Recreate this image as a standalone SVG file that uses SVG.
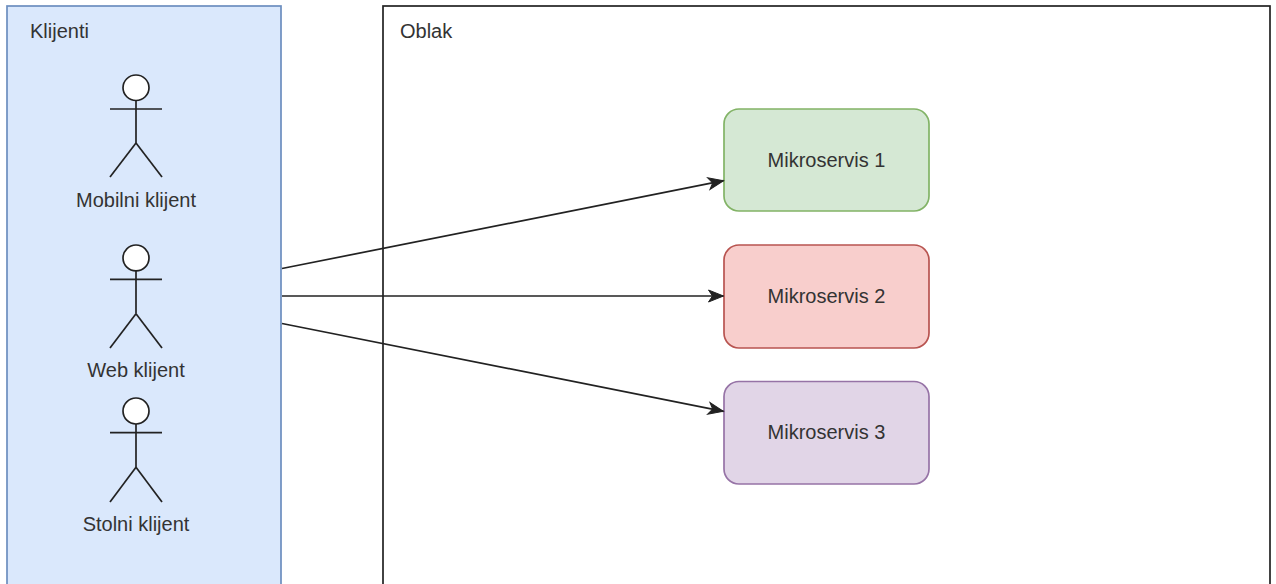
<svg xmlns="http://www.w3.org/2000/svg" width="1276" height="584" viewBox="0 0 1276 584">
<style>
text{font-family:"Liberation Sans",Arial,sans-serif;font-size:20px;fill:#333333}
.c{text-anchor:middle}
.actor line{stroke:#222;stroke-width:1.7}
.actor ellipse{fill:#fff;stroke:#222;stroke-width:1.7}
.conn{stroke:#222;stroke-width:1.7;fill:none;marker-end:url(#arr)}
.box{stroke-width:1.7}
</style>
<defs>
<marker id="arr" markerUnits="userSpaceOnUse" markerWidth="20" markerHeight="16" viewBox="-16 -8 18 16" refX="0" refY="0" orient="auto">
<path d="M0,0 L-15,-6 L-11,0 L-15,6 Z" fill="#222" stroke="#222" stroke-width="1"/>
</marker>
</defs>
<rect width="1276" height="584" fill="#fff"/>
<g id="klijenti">
<rect x="7" y="6" width="274" height="600" fill="#dae8fc" stroke="#6c8ebf" stroke-width="1.7"/>
<text x="30" y="38">Klijenti</text>
</g>
<g id="oblak">
<rect x="383" y="6" width="887" height="600" fill="#fff" stroke="#222" stroke-width="1.7"/>
<text x="400" y="38">Oblak</text>
</g>
<g id="mobilni" class="actor">
<ellipse cx="136" cy="87.75" rx="13" ry="12.75"/>
<line x1="136" y1="100.5" x2="136" y2="143"/>
<line x1="110" y1="109" x2="162" y2="109"/>
<line x1="136" y1="143" x2="110" y2="177"/>
<line x1="136" y1="143" x2="162" y2="177"/>
<text class="c" x="136" y="207">Mobilni klijent</text>
</g>
<g id="web" class="actor">
<ellipse cx="136" cy="257.9" rx="13" ry="12.9"/>
<line x1="136" y1="270.8" x2="136" y2="313.7"/>
<line x1="110" y1="279.3" x2="162" y2="279.3"/>
<line x1="136" y1="313.7" x2="110" y2="348"/>
<line x1="136" y1="313.7" x2="162" y2="348"/>
<text class="c" x="136" y="377">Web klijent</text>
</g>
<g id="stolni" class="actor">
<ellipse cx="136" cy="411" rx="13" ry="13"/>
<line x1="136" y1="424" x2="136" y2="467.3"/>
<line x1="110" y1="432.7" x2="162" y2="432.7"/>
<line x1="136" y1="467.3" x2="110" y2="502"/>
<line x1="136" y1="467.3" x2="162" y2="502"/>
<text class="c" x="136" y="531">Stolni klijent</text>
</g>
<g id="ms1">
<rect class="box" x="724" y="109" width="205" height="102" rx="15" fill="#d5e8d4" stroke="#82b366"/>
<text class="c" x="826.5" y="167">Mikroservis 1</text>
</g>
<g id="ms2">
<rect class="box" x="724" y="245" width="205" height="103" rx="15" fill="#f8cecc" stroke="#b85450"/>
<text class="c" x="826.5" y="303">Mikroservis 2</text>
</g>
<g id="ms3">
<rect class="box" x="724" y="381.5" width="205" height="102.5" rx="15" fill="#e1d5e7" stroke="#9673a6"/>
<text class="c" x="826.5" y="439">Mikroservis 3</text>
</g>
<g id="connectors">
<line class="conn" x1="282" y1="268.5" x2="723.5" y2="180.7"/>
<line class="conn" x1="282" y1="296" x2="723.5" y2="296"/>
<line class="conn" x1="282" y1="323.5" x2="723.5" y2="411.3"/>
</g>
</svg>
